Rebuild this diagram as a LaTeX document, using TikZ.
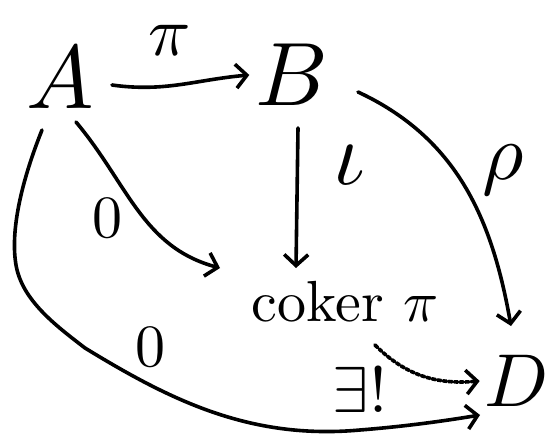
\documentclass[tikz,border=0pt]{standalone}
\usepackage{fontspec}
\usetikzlibrary{arrows.meta}
\tikzset{
  arr/.style={line width=3.6pt, line cap=round, -{Straight Barb[length=11pt,width=24pt,line width=3.6pt]}},
  obj/.style={inner sep=0.5pt},
  lbl/.style={inner sep=0.5pt}
}
\begin{document}
\begin{tikzpicture}[x=1pt,y=-1pt]
\useasboundingbox (0,0) rectangle (552,436);
\node[obj, scale=9] (A) at (60,78) {$A$};
\node[obj, scale=9] (B) at (292,75) {$B$};
\node[obj, scale=5.8] (C) at (345,302) {coker $\pi$};
\node[obj, scale=7.5] (D) at (517,381) {$D$};
% pi
\coordinate (a1) at (112,85);
\draw[arr] (a1) to[out=-8,in=185] (B.west);
\node[lbl, scale=7] (lpi) at (170,40) {$\pi$};
% iota
\coordinate (b1) at (298,128);
\coordinate (b1e) at (296,268);
\draw[arr] (b1) -- (b1e);
\node[lbl, scale=9] (liota) at (349,165) {$\iota$};
% rho
\coordinate (b2) at (358,92);
\coordinate (d1) at (511,326);
\draw[arr] (b2) to[out=-25,in=100] (d1);
\node[lbl, scale=8] (lrho) at (503,170) {$\rho$};
% zero to coker
\coordinate (a2) at (76,122);
\coordinate (c0) at (220,268);
\draw[arr] (a2) to[out=-50,in=165] (c0);
\node[lbl, scale=6] (lz1) at (107,218) {$0$};
% zero to D
\coordinate (a3) at (42,130);
\coordinate (d2) at (480,415);
\draw[arr] (a3) .. controls (22,180) and (10,230) .. (16,265)
  .. controls (22,300) and (55,325) .. (85,348)
  .. controls (170,400) and (250,440) .. (360,430)
  .. controls (410,426) and (450,420) .. (d2);
\node[lbl, scale=6] (lz2) at (150,347) {$0$};
% unique
\coordinate (c1) at (375,345);
\draw[arr, dotted, line width=3.6pt] (c1) to[out=-45,in=185] (D.west);
\node[lbl, scale=6.5] (lu) at (360,390) {$\exists!$};
\end{tikzpicture}
\end{document}
